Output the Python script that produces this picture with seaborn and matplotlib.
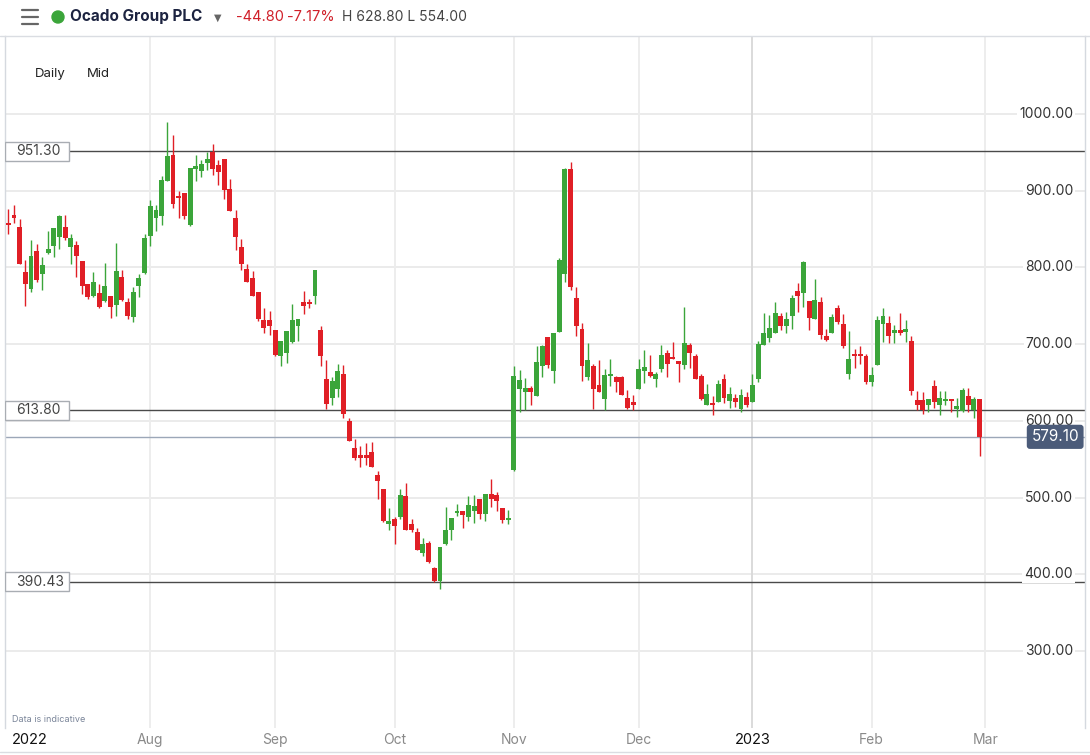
import matplotlib
matplotlib.use("Agg")
import matplotlib.pyplot as plt
import matplotlib.transforms as mtransforms
from matplotlib.patches import Ellipse, Rectangle
from matplotlib.lines import Line2D
import seaborn as sns
import numpy as np
import pandas as pd

# daily mid prices, Ocado Group PLC, 27 Jun 2022 - 28 Feb 2023
open_ = [857, 868, 853, 794, 772, 821, 791, 819, 828, 840, 853, 827, 829, 808, 779, 763, 767, 756, 763, 751,
         787, 755, 735, 776, 793, 841, 865, 867, 912, 947, 893, 897, 855, 928, 926, 936, 951, 934, 941, 902,
         864, 827, 798, 786, 768, 731, 731, 718, 684, 688, 703, 723, 755, 755, 763, 718, 654, 630, 641, 661,
         600, 564, 556, 555, 559, 529, 511, 465, 472, 475, 502, 465, 455, 428, 441, 408, 391, 440, 457, 480,
         483, 474, 483, 498, 478, 504, 503, 486, 471, 536, 642, 637, 643, 632, 672, 709, 665, 716, 792, 928,
         760, 720, 657, 671, 647, 629, 658, 657, 657, 630, 624, 642, 665, 664, 654, 667, 688, 683, 678, 673,
         699, 684, 658, 621, 623, 624, 654, 626, 630, 616, 631, 624, 655, 699, 708, 715, 737, 723, 736, 769,
         766, 756, 733, 755, 711, 715, 747, 726, 661, 687, 687, 684, 651, 673, 726, 727, 715, 718, 716, 704,
         627, 627, 620, 645, 621, 626, 628, 616, 613, 632, 614, 628.8]
high = [876, 881, 863, 810, 836, 831, 814, 847, 851, 868, 868, 843, 834, 808, 779, 794, 779, 806, 763, 832,
        797, 760, 775, 792, 843, 888, 881, 919, 990, 972, 900, 897, 930, 946, 940, 951, 961, 940, 941, 915,
        875, 837, 804, 795, 768, 747, 743, 718, 704, 717, 752, 733, 769, 759, 797, 724, 679, 657, 674, 673,
        603, 576, 567, 571, 572, 534, 511, 486, 475, 511, 519, 472, 460, 447, 443, 409, 435, 488, 473, 491,
        483, 502, 503, 498, 504, 524, 507, 486, 484, 671, 666, 656, 645, 697, 699, 709, 714, 812, 930, 937,
        774, 727, 701, 674, 679, 668, 681, 658, 659, 640, 634, 680, 692, 686, 664, 699, 692, 703, 678, 748,
        701, 687, 661, 648, 632, 653, 661, 644, 635, 641, 637, 661, 704, 741, 738, 755, 741, 742, 764, 780,
        808, 756, 785, 761, 720, 739, 751, 739, 717, 694, 697, 687, 670, 737, 747, 737, 725, 741, 731, 711,
        639, 638, 628, 653, 639, 639, 628, 630, 643, 643, 631, 628.8]
low = [843, 858, 804, 750, 768, 781, 771, 818, 813, 824, 836, 804, 788, 765, 759, 762, 747, 755, 734, 736,
       756, 733, 729, 762, 792, 828, 847, 855, 912, 878, 865, 863, 854, 912, 918, 927, 920, 908, 889, 873,
       823, 796, 781, 763, 730, 714, 712, 684, 671, 676, 702, 704, 739, 747, 752, 671, 616, 620, 631, 604,
       574, 549, 540, 543, 540, 498, 468, 457, 440, 472, 457, 455, 432, 424, 415, 390, 381, 438, 444, 476,
       460, 470, 467, 472, 470, 488, 483, 467, 465, 534, 611, 614, 621, 632, 657, 669, 649, 716, 781, 771,
       710, 652, 653, 616, 637, 614, 645, 638, 633, 616, 614, 642, 649, 657, 644, 664, 657, 681, 650, 668,
       669, 655, 627, 621, 608, 624, 623, 617, 618, 612, 618, 624, 650, 699, 703, 714, 718, 715, 720, 742,
       749, 718, 733, 707, 704, 714, 726, 695, 655, 669, 674, 648, 646, 673, 703, 701, 701, 712, 703, 633,
       614, 609, 612, 617, 608, 620, 611, 605, 612, 611, 604, 554]
close = [855, 865, 804, 779, 815, 784, 803, 824, 851, 867, 838, 838, 815, 776, 762, 781, 749, 776, 749, 795,
         758, 736, 768, 786, 838, 880, 875, 914, 945, 883, 890, 867, 930, 932, 935, 941, 928, 924, 901, 873,
         839, 805, 781, 763, 733, 721, 724, 686, 704, 717, 731, 733, 750, 753, 797, 685, 622, 652, 665, 609,
         574, 552, 551, 551, 540, 522, 470, 469, 463, 503, 458, 457, 432, 439, 416, 391, 435, 458, 473, 482,
         477, 490, 489, 479, 504, 498, 496, 471, 472, 658, 653, 643, 637, 677, 697, 673, 714, 810, 928, 775,
         724, 672, 679, 642, 637, 660, 661, 651, 633, 617, 621, 667, 670, 658, 661, 686, 674, 681, 674, 701,
         688, 655, 629, 635, 621, 648, 630, 635, 624, 633, 620, 647, 700, 714, 721, 741, 724, 733, 760, 763,
         807, 734, 757, 712, 705, 735, 729, 697, 681, 685, 684, 650, 660, 731, 737, 711, 718, 714, 720, 639,
         620, 614, 628, 624, 630, 628, 626, 619, 640, 621, 628, 579.1]

level_lines = [951.30, 613.80, 390.43]
last_price = 579.10
y_ticks = [300, 400, 500, 600, 700, 800, 900, 1000]
uk_holidays = ["2022-08-29", "2022-09-19", "2022-12-26", "2022-12-27", "2023-01-02"]

days = pd.bdate_range("2022-06-27", "2023-02-28")
days = days[~days.isin(pd.to_datetime(uk_holidays))]
df = pd.DataFrame({"date": days, "open": open_, "high": high, "low": low, "close": close})
df["x"] = np.arange(len(df))
df["up"] = df["close"] >= df["open"]

GREEN = "#3BA53A"
RED = "#E01F26"

sns.set_style("white")
plt.rcParams["font.family"] = ["Inter", "DejaVu Sans"]

W, H = 1090, 755
fig = plt.figure(figsize=(W / 100, H / 100), dpi=100)
ax = fig.add_axes([5 / W, 27 / H, 1080 / W, (728 - 36) / H])

# candle i sits at pixel 8.3 + 5.68 i
px_step = 5.68
ax.set_xlim((5 - 8.3) / px_step, (1085 - 8.3) / px_step)
ax.set_ylim(1000 - (728 - 114) / 0.767, 1000 + (114 - 36) / 0.767)

for v in y_ticks:
    ax.axhline(v, color="#EBEBEB", lw=1.4, zorder=0)

# month gridlines and labels
lab_tr = mtransforms.blended_transform_factory(ax.transData, fig.transFigure)
month_first = df.groupby(df["date"].dt.to_period("M"))["x"].min()
month_pos = [(per, xi) for per, xi in month_first.items() if per.month not in (6, 7)]
month_pos.append((pd.Period("2023-03", "M"), len(df)))  # next trading day after the data
for per, xi in month_pos:
    if per.month == 1:
        ax.axvline(xi, color="#DADADA", lw=1.4, zorder=0)
        ax.text(xi, 1 - 740 / H, str(per.year), transform=lab_tr, ha="center", va="center",
                fontsize=10.5, color="#111111")
    else:
        ax.axvline(xi, color="#EDEDED", lw=1.4, zorder=0)
        ax.text(xi, 1 - 740 / H, per.strftime("%b"), transform=lab_tr, ha="center", va="center",
                fontsize=10, color="#8A8A8A")
fig.text(12 / W, 1 - 740 / H, "2022", ha="left", va="center", fontsize=10.5, color="#111111")

# candles
min_body = 2.5
for _, r in df.iterrows():
    c = GREEN if r["up"] else RED
    ax.vlines(r["x"], r["low"], r["high"], color=c, lw=1.0, zorder=3)
    lo = min(r["open"], r["close"])
    h = max(abs(r["close"] - r["open"]), min_body)
    ax.bar(r["x"], h, bottom=lo - (h - abs(r["close"] - r["open"])) / 2, width=0.86,
           color=c, lw=0, zorder=4)

# horizontal level lines with boxes on the left
lvl_tr = mtransforms.blended_transform_factory(ax.transAxes, ax.transData)
half_box = 9.5 / 0.767
for lv in level_lines:
    ax.axhline(lv, color="#4A4A4A", lw=1.0, zorder=2)
    ax.add_patch(Rectangle((0, lv - half_box), 64 / 1080, 2 * half_box, transform=lvl_tr,
                           fc="white", ec="#A9ADB3", lw=1.0, zorder=6))
    ax.text(11 / 1080, lv, f"{lv:.2f}", transform=lvl_tr, ha="left", va="center", fontsize=10,
            color="#444444", zorder=7)

# last price line
ax.axhline(last_price, color="#9CA7B8", lw=1.0, zorder=2)

# y tick labels on the right, inside the plot
for v in y_ticks:
    ax.text(1068 / 1080, v, f"{v:.2f}", transform=lvl_tr, ha="right", va="center", fontsize=10,
            color="#333333", zorder=5,
            bbox=dict(boxstyle="square,pad=0.15", fc="white", ec="none"))
ax.text(1074 / 1080, last_price, f"{last_price:.2f}", transform=lvl_tr, ha="right", va="center",
        fontsize=11, color="white", zorder=7,
        bbox=dict(boxstyle="round,pad=0.3,rounding_size=0.2", fc="#4B5B79", ec="none"))

ax.set_xticks([])
ax.set_yticks([])
for side in ["top", "bottom"]:
    ax.spines[side].set_visible(False)
for side in ["left", "right"]:
    ax.spines[side].set_color("#D5D9DF")
    ax.spines[side].set_linewidth(1.0)

# header bar
fig.add_artist(Line2D([0, 1], [1 - 36 / H, 1 - 36 / H], color="#DADDE2", lw=1.0))
for yy in [10, 17, 24]:
    fig.add_artist(Line2D([22 / W, 38 / W], [1 - yy / H, 1 - yy / H], color="#666666", lw=1.6))
fig.add_artist(Ellipse((58 / W, 1 - 17 / H), 12 / W, 12 / H, color="#3BA53A"))
fig.text(70 / W, 1 - 17 / H, "Ocado Group PLC", ha="left", va="center", fontsize=11,
         fontweight="bold", color="#1C2340")
fig.text(218 / W, 1 - 18 / H, "\u25BC", ha="center", va="center", fontsize=7, color="#666666",
         family="DejaVu Sans")
fig.text(236 / W, 1 - 17 / H, "-44.80", ha="left", va="center", fontsize=10.5, color="#D0202A")
fig.text(287 / W, 1 - 17 / H, "-7.17%", ha="left", va="center", fontsize=10.5, color="#D0202A")
fig.text(342 / W, 1 - 17 / H, "H 628.80 L 554.00", ha="left", va="center", fontsize=10,
         color="#444444")

fig.text(35 / W, 1 - 74 / H, "Daily", ha="left", va="center", fontsize=9.5, color="#222222")
fig.text(87 / W, 1 - 74 / H, "Mid", ha="left", va="center", fontsize=9.5, color="#222222")
fig.text(12 / W, 1 - 719 / H, "Data is indicative", ha="left", va="center", fontsize=6.5,
         color="#7A8599")

fig.add_artist(Line2D([0, 1], [1 - 752 / H, 1 - 752 / H], color="#DADDE2", lw=1.0))

fig.savefig("out.png", dpi=100, facecolor="white")
